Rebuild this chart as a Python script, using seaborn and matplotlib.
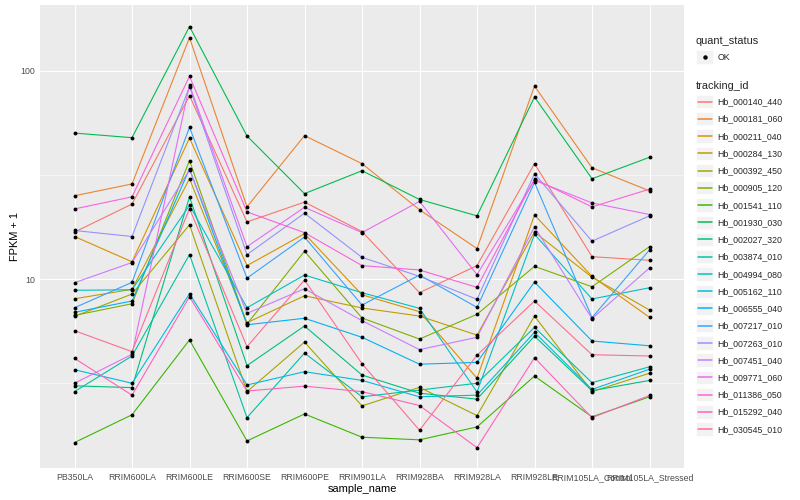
import numpy as np
import pandas as pd
import matplotlib
matplotlib.use("Agg")
import matplotlib.pyplot as plt
import seaborn as sns
from matplotlib.lines import Line2D
from matplotlib.patches import Rectangle
from matplotlib.legend_handler import HandlerBase
from matplotlib.ticker import FixedLocator, NullFormatter

samples = ["PB350LA", "RRIM600LA", "RRIM600LE", "RRIM600SE", "RRIM600PE",
           "RRIM901LA", "RRIM928BA", "RRIM928LA", "RRIM928LE",
           "RRIM105LA_Control", "RRIM105LA_Stressed"]

tracking_ids = ["Hb_000140_440", "Hb_000181_060", "Hb_000211_040", "Hb_000284_130",
                "Hb_000392_450", "Hb_000905_120", "Hb_001541_110", "Hb_001930_030",
                "Hb_002027_320", "Hb_003874_010", "Hb_004994_080", "Hb_005162_110",
                "Hb_006555_040", "Hb_007217_010", "Hb_007263_010", "Hb_007451_040",
                "Hb_009771_060", "Hb_011386_050", "Hb_015292_040", "Hb_030545_010"]

# FPKM + 1 values (one list per tracking_id, in sample order)
hb_000140_440 = [16.8, 22.9, 75.9, 18.8, 23.4, 16.9, 8.6, 11.6, 35.8, 12.8, 12.3]
hb_000181_060 = [25.1, 28.6, 144.0, 22.2, 48.8, 35.8, 21.5, 14.0, 84.4, 34.2, 26.5]
hb_000211_040 = [16.0, 12.1, 47.5, 11.6, 16.5, 8.4, 6.97, 3.34, 20.3, 10.3, 6.55]
hb_000284_130 = [8.04, 8.92, 30.3, 6.17, 8.31, 7.26, 6.64, 5.38, 16.8, 10.2, 7.10]
hb_000392_450 = [6.62, 8.47, 18.2, 2.88, 4.98, 2.46, 3.02, 2.21, 6.64, 2.88, 3.53]
hb_000905_120 = [6.69, 7.61, 37.0, 6.08, 13.6, 6.50, 5.15, 6.77, 11.5, 9.18, 14.3]
hb_001541_110 = [1.64, 2.23, 5.10, 1.67, 2.25, 1.74, 1.69, 1.95, 3.42, 2.18, 2.72]
hb_001930_030 = [50.2, 47.7, 163.0, 48.6, 25.7, 33.1, 24.1, 20.1, 74.8, 30.3, 38.4]
hb_002027_320 = [3.07, 3.01, 24.8, 3.84, 5.95, 3.46, 2.83, 2.65, 5.32, 2.91, 3.26]
hb_003874_010 = [2.88, 4.27, 13.1, 2.16, 4.41, 2.72, 2.93, 3.16, 5.86, 3.18, 3.79]
hb_004994_080 = [8.83, 8.88, 22.6, 7.28, 10.45, 8.6, 7.23, 2.87, 16.4, 8.02, 9.08]
hb_005162_110 = [3.67, 3.16, 8.50, 3.10, 3.59, 3.26, 2.72, 2.77, 5.55, 2.95, 3.69]
hb_006555_040 = [6.92, 7.84, 33.8, 6.03, 6.48, 5.25, 3.90, 3.98, 9.67, 5.04, 4.78]
hb_007217_010 = [7.28, 9.64, 53.5, 10.1, 15.9, 7.50, 10.45, 7.31, 29.1, 6.52, 13.8]
hb_007263_010 = [17.1, 16.0, 83.8, 13.1, 20.7, 12.7, 10.3, 7.99, 32.0, 15.2, 20.1]
hb_007451_040 = [9.60, 12.0, 33.4, 6.84, 8.98, 6.31, 4.58, 5.25, 17.8, 6.45, 11.3]
hb_009771_060 = [3.16, 4.35, 85.4, 14.3, 22.1, 16.7, 23.6, 10.5, 29.8, 23.2, 20.4]
hb_011386_050 = [21.7, 24.8, 94.0, 21.0, 16.7, 11.6, 11.05, 9.12, 30.2, 22.2, 27.0]
hb_015292_040 = [4.16, 2.77, 8.22, 2.90, 3.06, 2.88, 2.47, 1.55, 4.19, 2.16, 2.76]
hb_030545_010 = [5.65, 4.48, 21.8, 4.73, 9.89, 3.92, 1.88, 4.31, 7.84, 4.33, 4.27]

series_values = [hb_000140_440, hb_000181_060, hb_000211_040, hb_000284_130,
                 hb_000392_450, hb_000905_120, hb_001541_110, hb_001930_030,
                 hb_002027_320, hb_003874_010, hb_004994_080, hb_005162_110,
                 hb_006555_040, hb_007217_010, hb_007263_010, hb_007451_040,
                 hb_009771_060, hb_011386_050, hb_015292_040, hb_030545_010]

palette = ["#F8766D", "#EA8331", "#D89000", "#C09B00", "#A3A500", "#7CAE00",
           "#39B600", "#00BB4E", "#00BF7D", "#00C1A3", "#00BFC4", "#00BAE0",
           "#00B0F6", "#35A2FF", "#9590FF", "#C77CFF", "#E76BF3", "#FA62DB",
           "#FF62BC", "#FF6C91"]

rows = []
for tid, vals in zip(tracking_ids, series_values):
    for s, v in zip(samples, vals):
        rows.append({"tracking_id": tid, "sample_name": s, "fpkm1": v,
                     "quant_status": "OK"})
df = pd.DataFrame(rows)

sns.set_theme(style="darkgrid", rc={
    "axes.facecolor": "#EBEBEB",
    "grid.color": "white",
    "axes.edgecolor": "#EBEBEB",
})
plt.rcParams["font.family"] = ["Liberation Sans", "DejaVu Sans"]

fig = plt.figure(figsize=(800 / 72, 500 / 72), dpi=72)
fig.patch.set_facecolor("white")
ax = fig.add_axes([40 / 800, 32 / 500, 644 / 800, 463 / 500])

sns.lineplot(data=df, x="sample_name", y="fpkm1", hue="tracking_id",
             hue_order=tracking_ids, palette=palette, sort=False,
             estimator=None, linewidth=1.1, ax=ax, legend=False)
sns.scatterplot(data=df, x="sample_name", y="fpkm1", color="black", s=15,
                linewidth=0, ax=ax, legend=False, zorder=3)

ax.set_yscale("log")
ax.set_ylim(1.238, 206.8)
ax.set_xlim(-0.6, 10.6)
ax.yaxis.set_major_locator(FixedLocator([10, 100]))
ax.set_yticklabels(["10", "100"])
ax.yaxis.set_minor_locator(FixedLocator([10 ** 0.5, 10 ** 1.5]))
ax.yaxis.set_minor_formatter(NullFormatter())
ax.set_xticks(range(len(samples)))
ax.set_xticklabels(samples)

ax.grid(which="major", color="white", linewidth=1.07)
ax.grid(which="minor", axis="y", color="white", linewidth=0.53)
ax.tick_params(which="major", length=2.75, width=1.07, color="#333333",
               labelcolor="#4D4D4D", labelsize=8.8, pad=2)
ax.tick_params(which="minor", length=0)
for sp in ax.spines.values():
    sp.set_visible(False)

ax.set_xlabel("sample_name", fontsize=11, color="black", labelpad=2)
ax.set_ylabel("FPKM + 1", fontsize=11, color="black", labelpad=1)


class KeyHandler(HandlerBase):
    def __init__(self, point=False):
        super().__init__()
        self.point = point

    def create_artists(self, legend, orig_handle, xdescent, ydescent,
                       width, height, fontsize, trans):
        x0, y0 = -xdescent, -ydescent
        rect = Rectangle((x0, y0), width, height, facecolor="#F2F2F2",
                         edgecolor="white", linewidth=0.6, transform=trans)
        if self.point:
            art = Line2D([x0 + width / 2], [y0 + height / 2], marker="o",
                         linestyle="", color="black", markersize=3.4,
                         transform=trans)
        else:
            art = Line2D([x0 + width * 0.1, x0 + width * 0.9],
                         [y0 + height / 2, y0 + height / 2],
                         color=orig_handle.get_color(), linewidth=1.5,
                         transform=trans)
        return [rect, art]


ok_handle = Line2D([], [], marker="o", linestyle="", color="black")
leg1 = fig.legend(handles=[ok_handle], labels=["OK"], title="quant_status",
                  loc="upper left", bbox_to_anchor=(696 / 800, 1 - 36 / 500),
                  frameon=False, fontsize=8.8, title_fontsize=11,
                  alignment="left", handlelength=1.96, handleheight=1.96,
                  handletextpad=0.45, borderpad=0, borderaxespad=0,
                  labelspacing=0.5,
                  handler_map={Line2D: KeyHandler(point=True)})

line_handles = [Line2D([], [], color=c) for c in palette]
leg2 = fig.legend(handles=line_handles, labels=tracking_ids,
                  title="tracking_id", loc="upper left",
                  bbox_to_anchor=(696 / 800, 1 - 81 / 500),
                  frameon=False, fontsize=8.8, title_fontsize=11,
                  alignment="left", handlelength=1.96, handleheight=1.96,
                  handletextpad=0.45, borderpad=0, borderaxespad=0,
                  labelspacing=0.44,
                  handler_map={Line2D: KeyHandler(point=False)})

fig.savefig("out.png", dpi=72)
